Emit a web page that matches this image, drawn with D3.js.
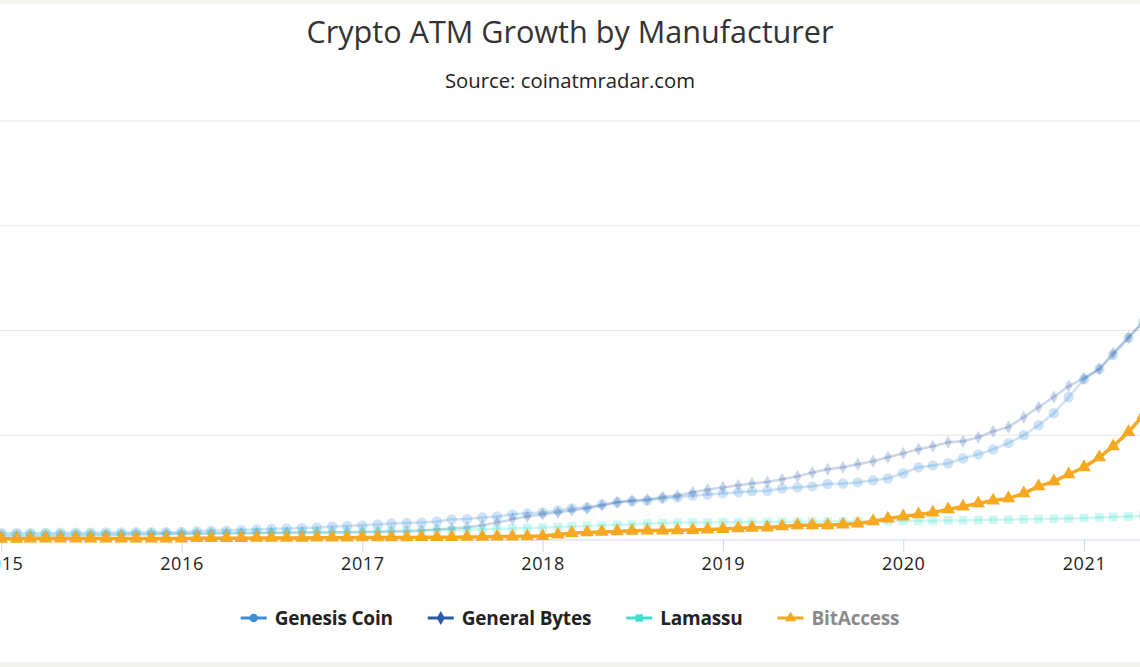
<!DOCTYPE html>
<html><head><meta charset="utf-8">
<script src="https://cdn.jsdelivr.net/npm/d3@7"></script>
<style>
html,body{margin:0;padding:0;background:#f4f4ef;overflow:hidden;}
svg{display:block;}
</style></head><body>
<svg id="c" width="1140" height="667"></svg>
<script>
// ---- data ----
const seriesNames = ["Genesis Coin", "General Bytes", "Lamassu", "BitAccess"];
const monthStart = new Date(2014, 11, 1);   // first data month (Dec 2014)
const monthEnd = new Date(2021, 5, 1);      // exclusive (last month May 2021)
const genesisCoin = [
  115,125,125,125,125,130,130,130,135,135,140,140,140,145,
  155,165,170,180,190,200,210,220,230,250,260,270,
  285,305,315,325,345,385,390,420,440,480,500,515,
  555,595,610,670,710,730,745,785,805,840,860,880,
  900,920,930,975,995,1015,1060,1070,1090,1130,1165,1265,
  1380,1415,1455,1550,1625,1720,1840,1990,2180,2410,2720,3060,
  3255,3520,3845,4155];
const generalBytes = [
  65,65,65,70,70,75,75,80,85,90,95,100,105,110,
  110,115,120,120,125,130,130,135,135,140,140,145,
  145,155,155,170,190,210,230,270,325,385,440,480,
  515,555,595,650,710,745,765,805,840,900,955,995,
  1035,1070,1100,1150,1205,1280,1340,1380,1435,1495,1570,1645,
  1725,1780,1855,1875,1950,2065,2145,2335,2525,2720,2930,3080,
  3255,3560,3865,4155];
const lamassu = [
  100,100,100,105,105,105,105,105,110,110,110,110,110,115,
  115,120,120,125,130,130,135,135,140,140,140,145,
  155,160,165,170,180,185,190,195,205,210,220,230,
  240,250,260,270,280,285,305,315,325,325,325,330,
  330,335,335,335,340,340,345,345,345,350,350,355,
  360,360,365,365,370,375,380,385,390,395,400,410,
  420,430,440,450];
const bitAccess = [
  15,15,15,20,20,20,20,20,20,20,20,20,20,20,
  25,25,25,25,30,30,30,30,35,35,35,40,
  40,40,40,45,45,45,50,50,55,55,60,65,
  95,125,135,145,155,165,170,170,175,180,190,200,
  215,225,230,250,270,270,270,285,305,345,400,440,
  480,515,575,630,690,745,785,880,1015,1110,1245,1380,
  1570,1780,2050,2375];
const yTicks = [0, 2000, 4000, 6000, 8000];
const xTickYears = [2015, 2016, 2017, 2018, 2019, 2020, 2021];

// ---- styles ----
const colors = ["#3a8fd9", "#2b5aa6", "#3fe0d0", "#f6a821"];
const symbols = [d3.symbolCircle, d3.symbolDiamond, d3.symbolSquare, d3.symbolTriangle];
const symSizes = [85, 50, 75, 80];
const activeIndex = 3;
const inactiveOpacity = 0.25;

const svg = d3.select("#c");
const W = 1140, H = 667;
svg.append("rect").attr("x", 0).attr("y", 4).attr("width", W).attr("height", 658).attr("fill", "#ffffff");

const months = d3.timeMonths(monthStart, monthEnd);
const valueSets = [genesisCoin, generalBytes, lamassu, bitAccess];
const series = seriesNames.map((n, i) => ({
  name: n, i, values: months.map((d, k) => ({date: d, v: valueSets[i][k]}))
}));

const x = d3.scaleTime().domain([new Date(2015, 0, 1), new Date(2021, 0, 1)]).range([1.2, 1084]);
const y = d3.scaleLinear().domain([0, 8000]).range([539.5, 120.5]);

// gridlines (y-axis, labels sit off the visible page on the left)
const gy = svg.append("g").attr("transform", "translate(-20,0)")
  .call(d3.axisLeft(y).tickValues(yTicks).tickSize(-1300).tickFormat(""));
gy.select(".domain").remove();
gy.selectAll(".tick line").attr("stroke", "#e6e6e6").attr("stroke-width", 1)
  .filter(d => d === 0).remove();

// x axis
const gx = svg.append("g").attr("transform", `translate(0,${y(0)})`)
  .call(d3.axisBottom(x).tickValues(xTickYears.map(yr => new Date(yr, 0, 1)))
    .tickFormat(d3.timeFormat("%Y")).tickSize(12).tickPadding(6));
gx.select(".domain").attr("d", `M-10,0.5H${W + 10}`).attr("stroke", "#ccd6eb");
gx.selectAll(".tick line").attr("stroke", "#ccd6eb");
gx.selectAll(".tick text").attr("fill", "#222").attr("font-family", "'Open Sans', sans-serif")
  .attr("font-size", 18).attr("letter-spacing", 0.6);

// series
const line = d3.line().x(d => x(d.date)).y(d => y(d.v));
[0, 1, 2, 3].forEach(i => {
  const s = series[i];
  const active = i === activeIndex;
  const g = svg.append("g");
  g.append("path").datum(s.values).attr("d", line).attr("fill", "none")
    .attr("stroke", colors[i]).attr("stroke-width", active ? 3.5 : 2.5)
    .attr("stroke-linejoin", "round").attr("stroke-linecap", "round")
    .attr("opacity", active ? 1 : inactiveOpacity);
  const mg = g.append("g").attr("opacity", active ? 1 : inactiveOpacity);
  mg.selectAll("path").data(s.values).join("path")
    .attr("transform", d => `translate(${x(d.date)},${y(d.v)})`)
    .attr("d", d3.symbol(symbols[i], symSizes[i]))
    .attr("fill", colors[i]);
});

// title
svg.append("text").attr("x", 570).attr("y", 43).attr("text-anchor", "middle")
  .attr("font-family", "'Open Sans', sans-serif").attr("font-size", 30.6).attr("fill", "#333")
  .text("Crypto ATM Growth by Manufacturer");
svg.append("text").attr("x", 570).attr("y", 88).attr("text-anchor", "middle")
  .attr("font-family", "'Open Sans', sans-serif").attr("font-size", 20.3).attr("fill", "#222")
  .text("Source: coinatmradar.com");

// legend
const lg = svg.append("g");
const items = lg.selectAll("g").data(series).join("g");
items.append("line").attr("x1", 0).attr("x2", 26).attr("y1", 0).attr("y2", 0)
  .attr("stroke", (d) => colors[d.i]).attr("stroke-width", 3);
items.append("path").attr("transform", "translate(13,0)")
  .attr("d", d => d3.symbol(symbols[d.i], 55)())
  .attr("fill", d => colors[d.i]);
items.append("text").attr("x", 34).attr("y", 7)
  .attr("font-family", "'Open Sans', sans-serif")
  .attr("font-weight", "bold").attr("font-size", 19).attr("letter-spacing", -0.2)
  .attr("fill", d => d.i === activeIndex ? "#8a8a8a" : "#222")
  .text(d => d.name);
const widths = [];
items.each(function() { widths.push(34 + this.querySelector("text").getComputedTextLength()); });
const gap = 35;
const total = d3.sum(widths) + gap * (widths.length - 1);
let cx = 570 - total / 2;
items.attr("transform", (d, k) => {
  const t = `translate(${cx},618)`;
  cx += widths[k] + gap;
  return t;
});
</script>
</body></html>
